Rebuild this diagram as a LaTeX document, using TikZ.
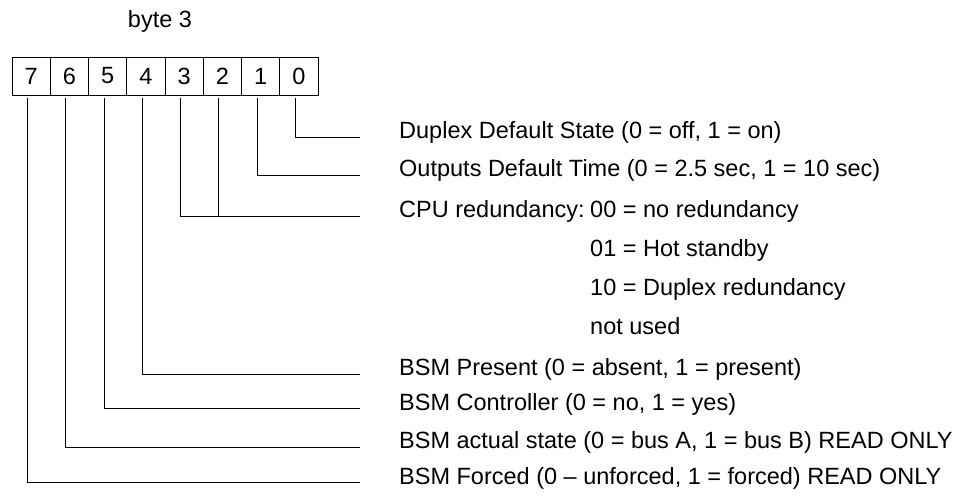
\documentclass[tikz,border=0pt]{standalone}
\usepackage{fontspec}
\setmainfont{Liberation Sans}
\begin{document}
\begin{tikzpicture}[x=1pt,y=-1pt,
  font=\fontsize{23.5}{28}\selectfont,
  lbl/.style={anchor=base west, inner sep=0pt},
  cell/.style={draw, minimum width=38.25pt, minimum height=38pt, inner sep=0pt, line width=0.8pt},
  conn/.style={line width=0.9pt}]
\useasboundingbox (0,0) rectangle (964,502);
\foreach \b [count=\i from 0] in {7,...,0}
  \node[cell] (c\b) at ({31.125+38.25*\i},76) {\b};
\node[inner sep=0pt, anchor=base] (title) at (160,28) {byte 3};
% labels
\node[lbl] (t0) at (399,139) {Duplex Default State (0 = off, 1 = on)};
\node[lbl] (t1) at (399,177) {Outputs Default Time (0 = 2.5 sec, 1 = 10 sec)};
\node[lbl] (t2) at (399,218) {CPU redundancy:};
\node[lbl] (t2a) at (590,218) {00 = no redundancy};
\node[lbl] (t2b) at (590,257) {01 = Hot standby};
\node[lbl] (t2c) at (590,296) {10 = Duplex redundancy};
\node[lbl] (t2d) at (590,335) {not used};
\node[lbl] (t4) at (399,376) {BSM Present (0 = absent, 1 = present)};
\node[lbl] (t5) at (399,410) {BSM Controller (0 = no, 1 = yes)};
\node[lbl] (t6) at (399,449) {BSM actual state (0 = bus A, 1 = bus B) READ ONLY};
\node[lbl] (t7) at (399,484) {BSM Forced (0 – unforced, 1 = forced) READ ONLY};
% line ends
\coordinate (e0) at (360,137);
\coordinate (e1) at (360,175);
\coordinate (e23) at (360,216);
\coordinate (e4) at (360,374);
\coordinate (e5) at (360,408);
\coordinate (e6) at (360,447);
\coordinate (e7) at (360,482);
% connectors
\draw[conn] ([xshift=-3.5pt,yshift=-3pt]c0.south) |- (e0);
\draw[conn] ([xshift=-3.5pt,yshift=-3pt]c1.south) |- (e1);
\draw[conn] ([xshift=-3.5pt,yshift=-3pt]c3.south) |- (e23);
\draw[conn] ([xshift=-3.5pt,yshift=-3pt]c2.south) -- ([xshift=-3.5pt]c2.south |- e23);
\draw[conn] ([xshift=-3.5pt,yshift=-3pt]c4.south) |- (e4);
\draw[conn] ([xshift=-3.5pt,yshift=-3pt]c5.south) |- (e5);
\draw[conn] ([xshift=-3.5pt,yshift=-3pt]c6.south) |- (e6);
\draw[conn] ([xshift=-3.5pt,yshift=-3pt]c7.south) |- (e7);
\end{tikzpicture}
\end{document}
